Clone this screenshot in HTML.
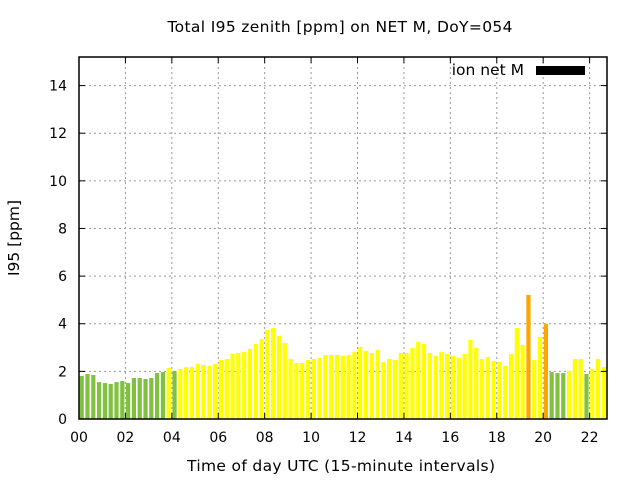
<!DOCTYPE html>
<html><head><meta charset="utf-8"><style>
body{margin:0;background:#fff;}
svg text{font-family:"DejaVu Sans","Liberation Sans",sans-serif;font-size:14px;fill:#000;}
svg text.big{font-size:15.5px;}
</style></head><body>
<svg id="chart" width="640" height="480" xmlns="http://www.w3.org/2000/svg">
<text class="big" x="340" y="32" text-anchor="middle" textLength="345">Total I95 zenith [ppm] on NET M, DoY=054</text>
<text class="big" x="341" y="471" text-anchor="middle" textLength="308">Time of day UTC (15-minute intervals)</text>
<text class="big" transform="translate(19,238) rotate(-90)" text-anchor="middle">I95 [ppm]</text>
<g id="grid"></g>
<g id="bars"></g>
<g id="axes"></g>
<text class="big" x="524" y="75" text-anchor="end">ion net M</text>
<rect x="536" y="66" width="49" height="9" fill="#000"/>
</svg>
<script>
const values=[1.81,1.89,1.85,1.55,1.51,1.47,1.55,1.6,1.51,1.72,1.72,1.68,1.72,1.93,1.97,2.14,2.02,2.1,2.18,2.18,2.31,2.27,2.23,2.31,2.48,2.52,2.73,2.77,2.82,2.94,3.15,3.36,3.74,3.82,3.49,3.19,2.52,2.35,2.35,2.48,2.52,2.56,2.69,2.69,2.69,2.65,2.69,2.82,3.03,2.86,2.77,2.9,2.39,2.52,2.48,2.77,2.77,2.98,3.24,3.15,2.77,2.65,2.82,2.73,2.65,2.56,2.73,3.32,2.98,2.52,2.6,2.44,2.39,2.23,2.73,3.82,3.11,5.21,2.48,3.45,3.99,1.97,1.93,1.93,2.02,2.52,2.52,1.89,2.1,2.52,2.18,2.18];
const levels=["g","g","g","g","g","g","g","g","g","g","g","g","g","g","g","y","g","y","y","y","y","y","y","y","y","y","y","y","y","y","y","y","y","y","y","y","y","y","y","y","y","y","y","y","y","y","y","y","y","y","y","y","y","y","y","y","y","y","y","y","y","y","y","y","y","y","y","y","y","y","y","y","y","y","y","y","y","o","y","y","o","g","g","g","y","y","y","g","y","y","y","y"];
const xTicks=["00","02","04","06","08","10","12","14","16","18","20","22"];
const yTicks=[0,2,4,6,8,10,12,14];
const L=79,R=607,T=57,B=419,XMAX=22.75,YMAX=15.2;
const xs=h=>L+h/XMAX*(R-L), ys=v=>B-v/YMAX*(B-T);
const NS="http://www.w3.org/2000/svg";
function mk(p,tag,a){const e=document.createElementNS(NS,tag);for(const k in a)e.setAttribute(k,a[k]);p.appendChild(e);return e;}
const grid=document.getElementById('grid'),bars=document.getElementById('bars'),axes=document.getElementById('axes');
const col={g:"#80c240",y:"#ffff00",o:"#ffa500"};
mk(document.getElementById('chart'),'clipPath',{id:'clip'}).appendChild(document.createElementNS(NS,'rect'));
const cr=document.querySelector('#clip rect');cr.setAttribute('x',L);cr.setAttribute('y',T);cr.setAttribute('width',R-L);cr.setAttribute('height',B-T);
bars.setAttribute('clip-path','url(#clip)');
yTicks.forEach(v=>{const y=ys(v);
 if(v>0){const g=mk(grid,'line',{x1:L,x2:R,y1:y,y2:y,stroke:"#999","stroke-dasharray":"2,3"});
 
 }
 mk(axes,'line',{x1:L,x2:L+6,y1:y,y2:y,stroke:"#000"});mk(axes,'line',{x1:R,x2:R-6,y1:y,y2:y,stroke:"#000"});
 const t=mk(axes,'text',{x:L-12,y:y+5,"text-anchor":"end"});t.textContent=v;
 
 
});
xTicks.forEach((s,i)=>{const x=xs(i*2);
 if(i>0){const g=mk(grid,'line',{x1:x,x2:x,y1:T,y2:B,stroke:"#999","stroke-dasharray":"2,3"});
 
 }
 mk(axes,'line',{x1:x,x2:x,y1:B,y2:B-6,stroke:"#000"});mk(axes,'line',{x1:x,x2:x,y1:T,y2:T+6,stroke:"#000"});
 const t=mk(axes,'text',{x:x,y:B+23,"text-anchor":"middle"});t.textContent=s;
 
 
});
values.forEach((v,i)=>{const x0=xs(i*0.25)+0.6,w=xs(0.25)-xs(0)-1.6,y=ys(v);
 const r=mk(bars,'rect',{x:x0,y:y,width:w,height:B-y,fill:col[levels[i]]});
 
 
});
const fr=mk(axes,'rect',{x:L,y:T,width:R-L,height:B-T,fill:"none",stroke:"#000","stroke-width":1.5});


</script>
</body></html>
